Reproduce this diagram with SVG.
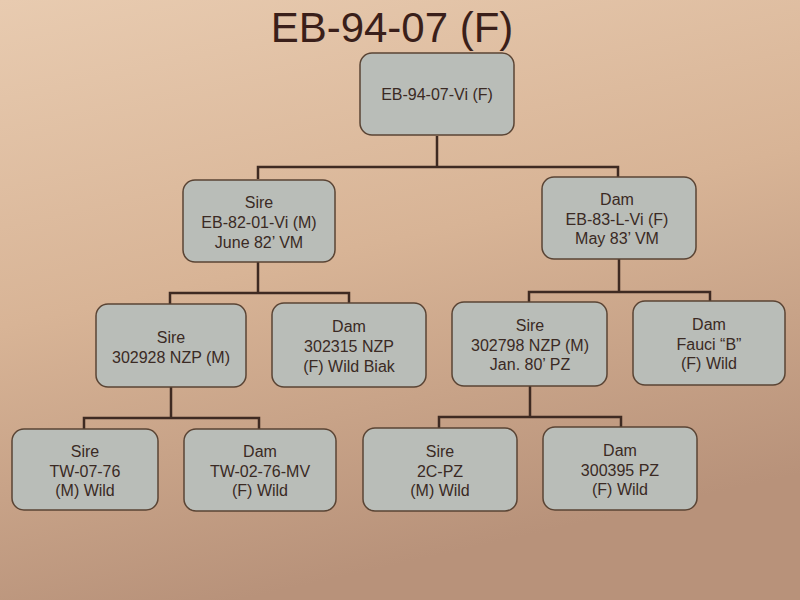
<svg xmlns="http://www.w3.org/2000/svg" width="800" height="600" viewBox="0 0 800 600">
<defs>
<linearGradient id="bg" x1="0" y1="0" x2="0.3" y2="1">
<stop offset="0" stop-color="#e8cbb0"/>
<stop offset="0.5" stop-color="#d8b496"/>
<stop offset="1" stop-color="#b8927a"/>
</linearGradient>
<style>
.box{fill:#b9bdb8;stroke:#5a4434;stroke-width:1.5}
.t{font-family:"Liberation Sans",Arial,sans-serif;font-size:16px;fill:#3a2a24;text-anchor:middle}
.title{font-family:"Liberation Sans",Arial,sans-serif;font-size:42px;fill:#3a1f1a;text-anchor:middle}
.c{fill:none;stroke:#3e2a22;stroke-width:2.5}
</style>
</defs>
<rect width="800" height="600" fill="url(#bg)"/>
<text class="title" x="392" y="42">EB-94-07 (F)</text>
<g id="connectors">
<path class="c" d="M437 136V167M258 179V167H618V177"/>
<path class="c" d="M258 262V293M170 304V293H349V303"/>
<path class="c" d="M619 259V292M529 302V292H710V301"/>
<path class="c" d="M171 387V418M84 429V418H259V429"/>
<path class="c" d="M530 386V417M439 428V417H621V427"/>
</g>
<g id="root">
<rect class="box" x="360" y="53" width="154" height="82" rx="12"/>
<text class="t" x="437" y="100">EB-94-07-Vi (F)</text>
</g>
<g id="sire1">
<rect class="box" x="183" y="180" width="152" height="82" rx="12"/>
<text class="t" x="259" y="208">Sire</text>
<text class="t" x="259" y="228">EB-82-01-Vi (M)</text>
<text class="t" x="259" y="248">June 82’ VM</text>
</g>
<g id="dam1">
<rect class="box" x="542" y="177" width="154" height="82" rx="12"/>
<text class="t" x="617" y="205">Dam</text>
<text class="t" x="617" y="225">EB-83-L-Vi (F)</text>
<text class="t" x="617" y="244">May 83’ VM</text>
</g>
<g id="sire2a">
<rect class="box" x="96" y="304" width="150" height="83" rx="12"/>
<text class="t" x="171" y="343">Sire</text>
<text class="t" x="171" y="363">302928 NZP (M)</text>
</g>
<g id="dam2a">
<rect class="box" x="272" y="303" width="154" height="84" rx="12"/>
<text class="t" x="349" y="332">Dam</text>
<text class="t" x="349" y="352">302315 NZP</text>
<text class="t" x="349" y="372">(F) Wild Biak</text>
</g>
<g id="sire2b">
<rect class="box" x="452" y="302" width="155" height="84" rx="12"/>
<text class="t" x="530" y="331">Sire</text>
<text class="t" x="530" y="351">302798 NZP (M)</text>
<text class="t" x="530" y="370">Jan. 80’ PZ</text>
</g>
<g id="dam2b">
<rect class="box" x="633" y="301" width="152" height="84" rx="12"/>
<text class="t" x="709" y="330">Dam</text>
<text class="t" x="709" y="350">Fauci “B”</text>
<text class="t" x="709" y="369">(F) Wild</text>
</g>
<g id="sire3a">
<rect class="box" x="12" y="429" width="146" height="81" rx="12"/>
<text class="t" x="85" y="457">Sire</text>
<text class="t" x="85" y="477">TW-07-76</text>
<text class="t" x="85" y="496">(M) Wild</text>
</g>
<g id="dam3a">
<rect class="box" x="184" y="429" width="152" height="82" rx="12"/>
<text class="t" x="260" y="457">Dam</text>
<text class="t" x="260" y="477">TW-02-76-MV</text>
<text class="t" x="260" y="496">(F) Wild</text>
</g>
<g id="sire3b">
<rect class="box" x="363" y="428" width="154" height="83" rx="12"/>
<text class="t" x="440" y="457">Sire</text>
<text class="t" x="440" y="477">2C-PZ</text>
<text class="t" x="440" y="496">(M) Wild</text>
</g>
<g id="dam3b">
<rect class="box" x="543" y="427" width="154" height="83" rx="12"/>
<text class="t" x="620" y="456">Dam</text>
<text class="t" x="620" y="476">300395 PZ</text>
<text class="t" x="620" y="495">(F) Wild</text>
</g>
</svg>
